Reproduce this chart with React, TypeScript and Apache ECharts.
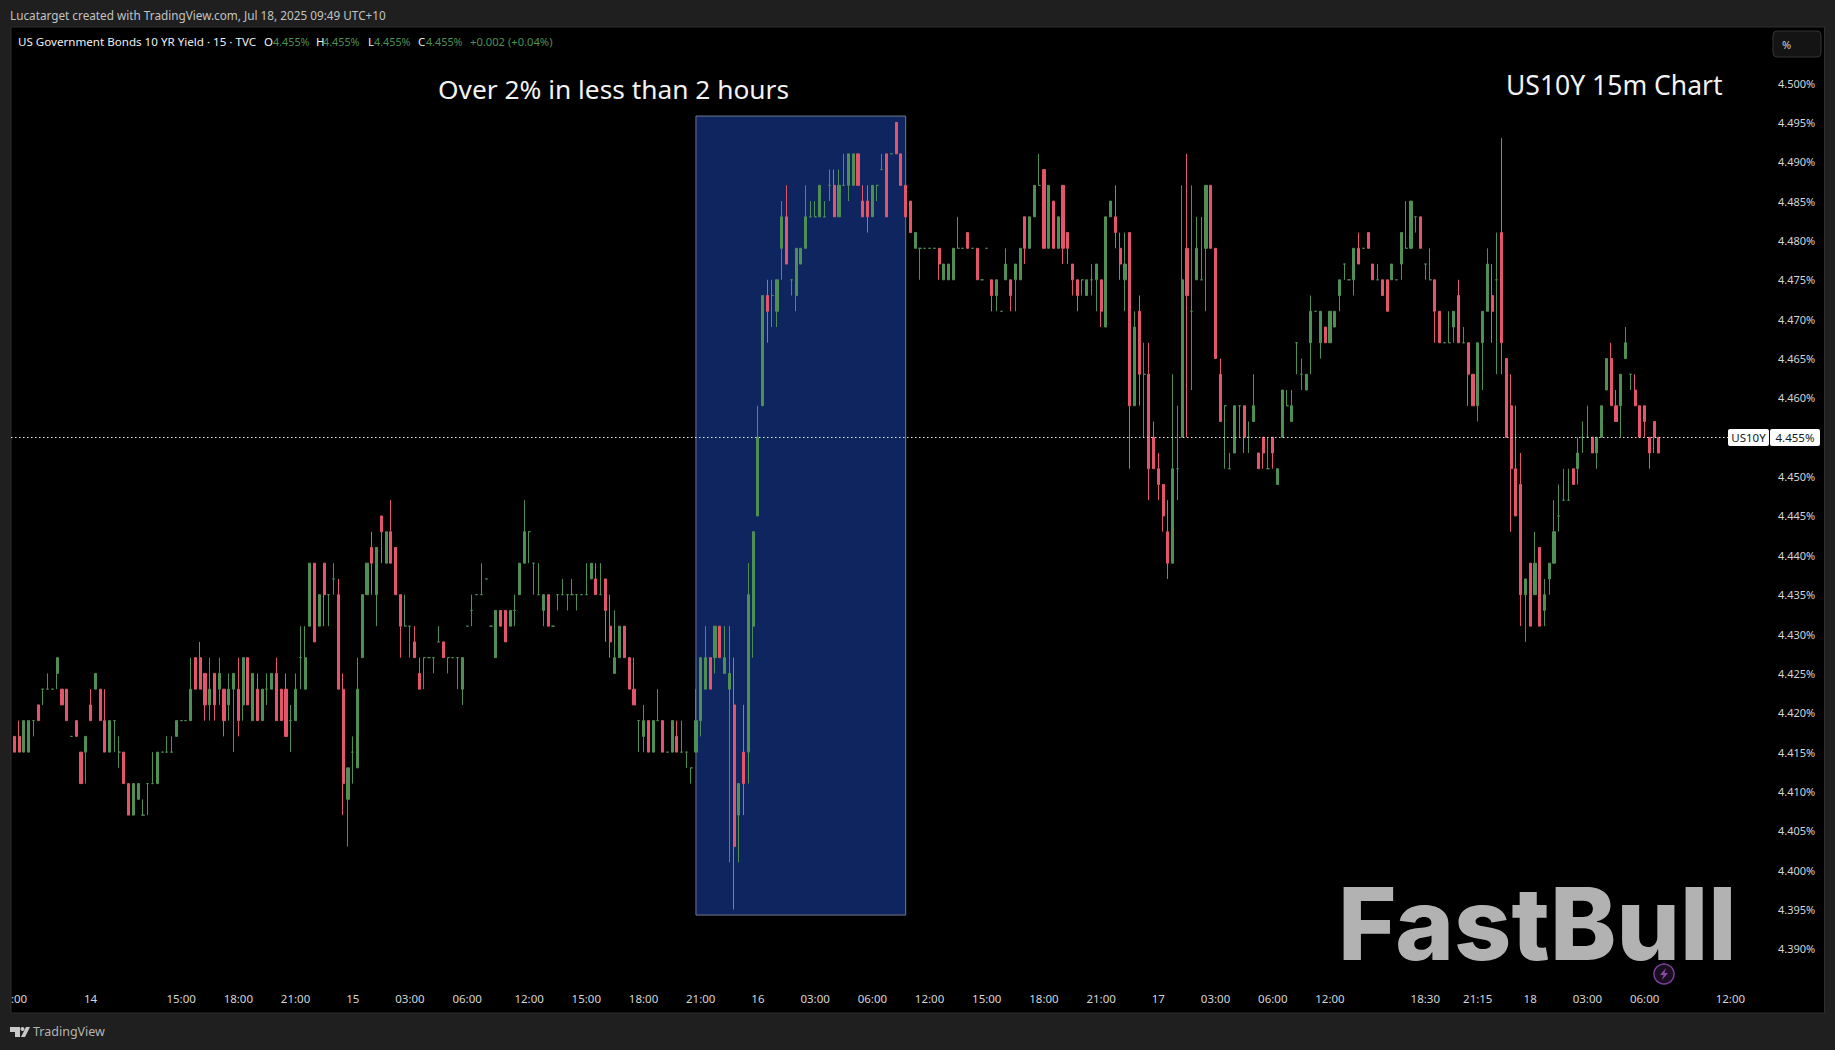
import React, { useEffect, useRef } from "react";
import * as echarts from "echarts";

// Prices in thousandths above 4.400%: [open, high, low, close]
const BASE_YIELD = 4.4;
const barsJul13to14 = [
  [17,17,15,15],[17,19,15,15],[15,19,15,19],[15,19,15,19],[19,19,17,19],[21,21,19,19],[23,23,21,23],[23,25,23,23],[23,23,23,23],[25,27,23,27],
  [23,23,21,21],[23,23,19,19],[17,17,17,17],[19,19,17,17],[15,15,11,11],[15,17,11,17],[21,23,19,19],[23,25,23,25],[23,23,19,19],[19,23,15,15],
  [15,19,15,19],[19,19,15,19],[15,17,13,15],[15,15,11,11],[11,11,7,7],[7,11,7,11],[9,11,9,11],[7,9,7,7],[11,11,7,11],[11,15,11,11],
  [11,15,11,15],[15,15,15,15],[15,17,15,15],[15,17,15,15],[17,19,17,19],[19,19,19,19],[19,19,19,19],[19,27,19,23],[27,27,23,23],[27,29,23,23],
  [25,25,19,21],[21,27,19,23],[25,25,19,21],[23,27,21,25],[23,23,17,19],[21,25,19,23],[23,25,15,25],[23,27,17,19],[21,27,19,27],[27,27,21,21],
  [19,25,19,25],[23,25,19,19],[19,23,19,23],[23,25,21,23],[23,25,23,25],[25,27,19,19],[23,23,19,19],[23,25,17,17],[19,21,15,19],[19,25,19,23],
  [27,31,23,27],[23,31,23,27],[31,39,31,39],[39,39,29,29],[31,35,31,35],[39,39,31,35],[35,35,31,35],[37,39,35,37],[35,37,23,23],[23,25,7,11],
  [9,13,3,13],[15,17,11,15],[13,27,13,23],
];
const barsJul15 = [
  [27,35,27,35],[35,39,35,39],[41,43,35,39],[35,41,31,41],[45,45,39,43],[39,43,39,43],[43,47,39,39],[41,41,35,35],[35,35,27,31],[31,35,31,31],
  [31,31,27,31],[29,31,27,27],[25,27,23,23],[27,27,23,27],[27,27,27,27],[27,27,25,27],[29,31,29,29],[29,29,27,27],[27,27,25,27],[27,27,27,27],
  [27,27,23,27],[23,27,21,27],[31,31,31,31],[33,35,31,33],[35,35,35,35],[35,39,35,35],[37,37,37,37],[31,31,31,31],[27,33,27,33],[33,33,31,31],
  [33,33,29,29],[31,33,31,33],[33,35,31,33],[35,39,35,39],[39,47,39,43],[43,43,39,43],[39,39,35,39],[35,39,35,35],[33,35,31,35],[35,35,31,31],
  [31,31,31,31],[35,35,33,35],[35,37,35,35],[35,35,33,35],[35,37,35,35],[35,35,33,35],[35,35,35,35],[35,39,35,35],[37,39,37,39],[37,39,35,35],
  [35,39,35,35],[37,37,29,33],[31,35,27,29],[25,33,25,27],[27,31,27,31],[31,31,27,27],[27,27,23,23],[23,27,21,21],[19,19,15,19],[17,21,15,19],
  [19,19,15,15],[15,19,15,19],[19,23,19,19],[19,19,15,15],[15,15,15,15],[15,19,15,19],[17,19,15,15],[15,19,15,15],[15,15,13,15],[13,13,11,13],
];
const barsJul16 = [
  [15,23,15,19],[19,27,17,27],[23,31,23,27],[27,27,23,23],[27,31,25,31],[31,31,27,27],[25,31,25,27],[23,31,1,25],[21,27,-5,3],[7,11,1,11],
  [15,21,7,11],[15,39,11,35],[31,43,27,43],[45,59,45,55],[59,73,59,73],[73,75,67,71],[73,75,69,73],[71,75,69,75],[79,85,75,83],[83,87,77,77],
  [75,75,73,75],[73,79,71,79],[77,79,77,79],[79,87,79,83],[83,85,83,83],[83,85,83,83],[83,87,83,87],[83,85,83,83],[87,89,85,87],[87,89,83,83],
  [83,89,83,87],[87,91,87,87],[87,91,85,91],[87,91,87,91],[91,91,87,87],[85,87,83,83],[85,87,81,83],[83,87,83,87],[87,87,85,87],[89,91,89,89],
  [91,91,83,83],[91,91,91,91],[95,95,91,91],[91,91,87,87],[87,87,83,83],[85,85,81,81],[79,81,79,81],[79,79,75,79],[79,79,79,79],[79,79,79,79],
  [79,79,79,79],[79,79,75,77],[75,77,75,77],[75,77,75,77],[75,79,75,79],[79,83,79,79],[79,79,79,79],[81,81,79,79],[79,79,79,79],[79,79,75,75],
  [75,75,75,75],[79,79,79,79],[75,75,71,73],[73,75,71,75],[71,71,71,71],[75,79,75,77],[75,75,71,73],[75,77,71,77],[75,79,75,79],[83,83,77,79],
  [79,83,79,83],[83,87,83,87],[87,91,87,87],[89,89,79,79],[79,87,79,87],[85,85,79,79],[79,83,79,83],[87,87,77,79],[81,81,77,79],[77,77,73,75],
  [75,75,71,73],[75,75,73,75],[73,75,73,75],[75,77,73,75],[75,77,71,77],[75,75,69,71],[69,83,69,83],[83,85,83,85],[83,87,79,81],[79,81,75,77],
  [75,81,71,77],
];
const barsJul17to18 = [
  [81,81,51,59],[59,71,59,69],[71,73,59,63],[63,67,55,63],[63,67,47,51],[55,57,51,51],[51,53,47,49],[49,49,43,45],[43,47,37,39],[39,63,39,51],
  [51,59,47,51],[55,87,55,75],[79,91,55,73],[71,87,61,71],[75,83,75,79],[75,83,75,75],[79,87,71,87],[87,87,79,79],[79,79,65,65],[63,65,57,57],
  [59,59,51,59],[51,53,51,51],[53,59,53,59],[59,59,55,59],[59,59,53,55],[55,57,53,55],[57,63,57,59],[53,53,51,51],[55,55,51,53],[51,55,51,51],
  [55,55,51,53],[49,51,49,51],[55,61,55,61],[59,61,59,59],[57,61,57,59],[67,67,63,67],[63,65,61,63],[61,63,61,63],[67,73,63,71],[71,71,71,71],
  [67,71,65,71],[69,69,67,67],[67,71,67,71],[69,71,69,71],[73,75,71,75],[77,77,75,77],[75,75,75,75],[75,79,73,79],[79,81,77,77],[79,79,79,79],
  [81,81,79,79],[77,77,75,75],[75,77,75,75],[75,75,73,73],[75,75,71,71],[75,77,75,77],[75,75,75,75],[77,81,75,81],[79,85,79,79],[79,85,79,85],
  [83,83,81,83],[83,83,79,79],[77,77,75,77],[75,79,75,75],[75,75,67,71],[71,71,67,67],[67,67,67,67],[67,71,67,67],[69,71,67,71],[73,75,67,67],
  [67,69,67,67],[67,67,59,63],[63,63,59,59],[59,67,57,67],[67,71,61,71],[71,79,71,77],[73,77,67,71],[75,81,63,75],[81,93,63,67],[65,65,55,55],
  [59,63,43,51],[51,59,45,45],[49,53,31,35],[35,37,29,37],[39,39,31,31],[35,43,35,39],[41,41,31,31],[33,37,31,35],[37,39,35,39],[39,47,39,43],
  [45,49,43,45],[47,51,47,47],[47,51,47,47],[51,51,49,49],[51,55,49,53],[55,57,53,55],[55,59,55,55],[55,55,53,53],[53,55,51,55],[55,59,55,59],
  [61,65,61,65],[65,67,59,59],[59,61,57,57],[59,63,55,63],[65,69,65,67],[63,63,61,63],[61,63,59,59],[59,59,55,55],[59,59,55,57],[55,55,51,53],
  [57,57,53,55],[55,55,53,53],
];

const timeLabels = [":00","14","15:00","18:00","21:00","15","03:00","06:00","12:00","15:00","18:00","21:00","16","03:00","06:00","12:00","15:00","18:00","21:00","17","03:00","06:00","12:00","18:30","21:15","18","03:00","06:00","12:00"];
const timeLabelBars = [1,16,35,47,59,71,83,95,108,120,132,144,156,168,180,192,204,216,228,240,252,264,276,296,307,318,330,342,360];
const lastPrice = 4.455;
const lastPriceText = "4.455%";
const highlightBars = [143, 187];
const highlightYields = [4.3943, 4.4958];
const headerText = "Lucatarget created with TradingView.com, Jul 18, 2025 09:49 UTC+10";
const symbolText = "US Government Bonds 10 YR Yield · 15 · TVC";
const annotationText = "Over 2% in less than 2 hours";
const chartTitleText = "US10Y 15m Chart";

const FONT = "'Noto Sans', sans-serif";
const GREEN = "#4f8f55";
const RED = "#e2556b";
const SLOT_COUNT = 367;
const BAR_STEP = 4.767;

export default function App() {
  const ref = useRef<HTMLDivElement>(null);
  useEffect(() => {
    document.body.style.margin = "0";
    document.body.style.background = "#1f1f1f";
    const chart = echarts.init(ref.current!, null, { renderer: "svg" });
    const bars = [...barsJul13to14, ...barsJul15, ...barsJul16, ...barsJul17to18];
    const toYield = (v: number) => +(BASE_YIELD + v / 1000).toFixed(3);
    // echarts candlestick order: open, close, low, high
    const candleData = bars.map(([o, h, l, c]) => [toYield(o), toYield(c), toYield(l), toYield(h)]);
    const categories: string[] = Array.from({ length: SLOT_COUNT }, () => "");
    timeLabelBars.forEach((b, i) => { categories[b] = timeLabels[i]; });

    const txt = (x: number, y: number, text: string, fill: string, fontSize: number, extra: any = {}) => ({
      type: "text", x, y, z: 5,
      style: { text, fill, font: `${extra.weight || "normal"} ${fontSize}px ${extra.family || FONT}`, textAlign: extra.align || "left", textVerticalAlign: "middle" },
    });

    chart.setOption({
      animation: false,
      backgroundColor: "#1f1f1f",
      grid: { left: 11.9, top: 43.64, width: SLOT_COUNT * BAR_STEP, height: 944.64, containLabel: false },
      xAxis: {
        type: "category",
        data: categories,
        boundaryGap: true,
        axisLine: { show: false },
        axisTick: { show: false },
        splitLine: { show: false },
        axisLabel: {
          color: "#d6d6d6", fontFamily: FONT, fontSize: 11.5, margin: 4.7,
          interval: (_i: number, v: string) => v !== "",
          hideOverlap: false,
        },
      },
      yAxis: {
        type: "value",
        position: "right",
        min: 4.385,
        max: 4.505,
        interval: 0.005,
        scale: true,
        axisLine: { show: false },
        axisTick: { show: false },
        splitLine: { show: false },
        axisLabel: {
          color: "#d6d6d6", fontFamily: FONT, fontSize: 11, margin: 16.5, padding: [0, 0, 3, 0],
          showMinLabel: false, showMaxLabel: false,
          formatter: (v: number) => v.toFixed(3) + "%",
        },
      },
      series: [{
        type: "candlestick",
        data: candleData,
        barWidth: 2.6,
        z: 3,
        itemStyle: {
          color: GREEN, color0: RED, borderColor: GREEN, borderColor0: RED, borderColorDoji: GREEN, borderWidth: 1,
        },
        markArea: {
          silent: true,
          z: 1,
          itemStyle: { color: "#0f2560", borderColor: "#73788c", borderWidth: 1 },
          data: [[
            { xAxis: highlightBars[0], yAxis: highlightYields[0] },
            { xAxis: highlightBars[1], yAxis: highlightYields[1] },
          ]],
        },
        markLine: {
          silent: true,
          symbol: "none",
          label: { show: false },
          z: 4,
          lineStyle: { color: "#e8e8e8", type: [1.5, 2.5], width: 1 },
          data: [[
            { x: 11, xAxis: 0, yAxis: lastPrice },
            { x: 1728, xAxis: 0, yAxis: lastPrice },
          ]],
        },
      }],
      graphic: [
        { type: "rect", z: -10, silent: true, shape: { x: 11, y: 27, width: 1813.5, height: 986 }, style: { fill: "#000", stroke: "#2e2e2e", lineWidth: 1 } },
        txt(10, 14.5, headerText, "#c2c2c2", 11.75),
        txt(18, 41.5, symbolText, "#f0f0f0", 11.6),
        txt(264, 41.5, "O", "#f0f0f0", 11.5), txt(273, 41.5, lastPriceText, GREEN, 10.8),
        txt(316, 41.5, "H", "#f0f0f0", 11.5), txt(323, 41.5, lastPriceText, GREEN, 10.8),
        txt(368, 41.5, "L", "#f0f0f0", 11.5), txt(374, 41.5, lastPriceText, GREEN, 10.8),
        txt(418, 41.5, "C", "#f0f0f0", 11.5), txt(426, 41.5, lastPriceText, GREEN, 10.8),
        txt(470, 41.5, "+0.002 (+0.04%)", GREEN, 11.2),
        txt(438, 88.5, annotationText, "#f2f2f2", 26.3),
        txt(1506, 85, chartTitleText, "#f2f2f2", 26.5),
        { type: "rect", z: 5, shape: { x: 1773, y: 31, width: 48, height: 26, r: 4 }, style: { fill: "#141414", stroke: "#333", lineWidth: 1 } },
        txt(1782, 44.5, "%", "#cfcfcf", 11),
        { type: "rect", z: 5, shape: { x: 1728, y: 429, width: 41, height: 17, r: 2 }, style: { fill: "#fff" } },
        txt(1748.5, 437, "US10Y", "#131722", 11.5, { align: "center" }),
        { type: "rect", z: 5, shape: { x: 1770, y: 429, width: 50, height: 17, r: 2 }, style: { fill: "#fff" } },
        txt(1795, 437, lastPriceText, "#131722", 11.5, { align: "center" }),
        txt(1338, 923, "FastBull", "#b2b2b2", 100, { weight: "800", family: "Inter, sans-serif" }),
        { type: "circle", z: 6, shape: { cx: 1664, cy: 974, r: 10 }, style: { fill: "#1a0f20", stroke: "#7b3f9b", lineWidth: 1.5 } },
        { type: "polygon", z: 7, shape: { points: [[1666, 968], [1660, 975], [1663.5, 975], [1662, 980], [1668, 973], [1664.5, 973]] }, style: { fill: "#8a4aa8" } },
        { type: "polygon", z: 5, shape: { points: [[10, 1027], [20, 1027], [20, 1037], [15, 1037], [15, 1032], [10, 1032]] }, style: { fill: "#c8c8c8" } },
        { type: "circle", z: 5, shape: { cx: 22.5, cy: 1029, r: 2 }, style: { fill: "#c8c8c8" } },
        { type: "polygon", z: 5, shape: { points: [[26, 1027], [30, 1027], [25, 1037], [21, 1037]] }, style: { fill: "#c8c8c8" } },
        txt(33, 1031, "TradingView", "#b4b4b4", 12.5),
      ],
    });
    return () => chart.dispose();
  }, []);
  return <div ref={ref} style={{ position: "fixed", left: 0, top: 0, width: 1835, height: 1050 }} />;
}
